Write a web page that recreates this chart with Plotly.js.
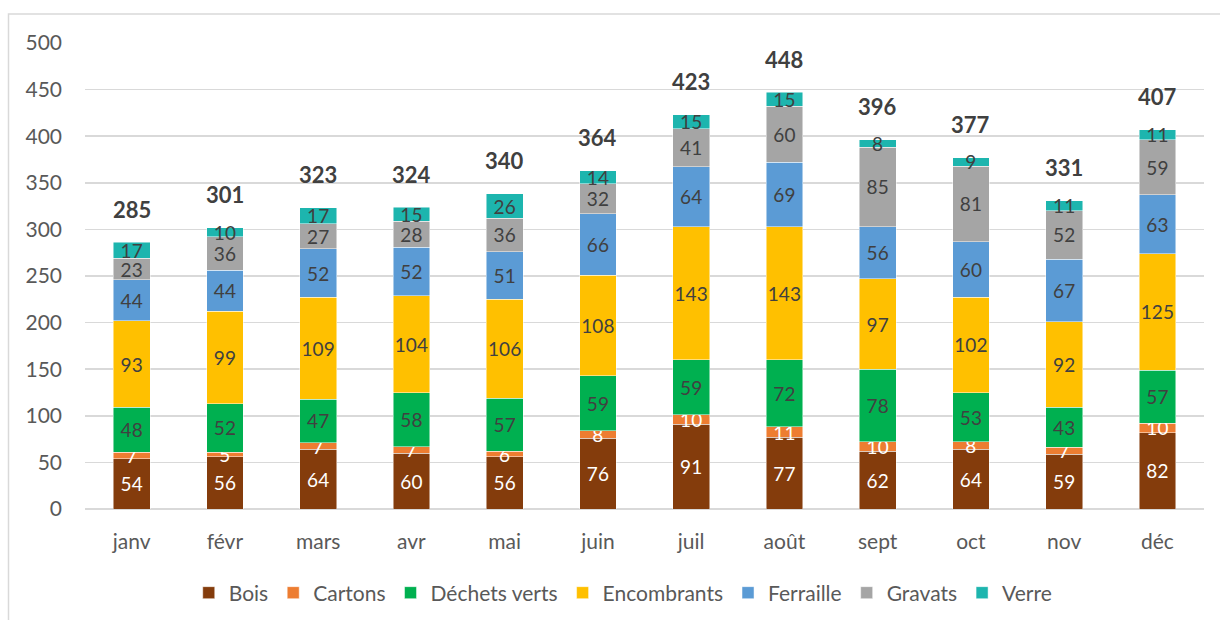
<!DOCTYPE html>
<html>
<head>
<meta charset="utf-8">
<script src="https://cdn.plot.ly/plotly-3.0.1.min.js"></script>
<style>
html,body{margin:0;padding:0;background:#fff;}
#chart{width:1220px;height:620px;}
</style>
</head>
<body>
<div id="chart"></div>
<script>
const months = ["janv","févr","mars","avr","mai","juin","juil","août","sept","oct","nov","déc"];
const bois         = [54,56,64,60,56,76,91,77,62,64,59,82];
const cartons      = [7,5,7,7,6,8,10,11,10,8,7,10];
const dechetsVerts = [48,52,47,58,57,59,59,72,78,53,43,57];
const encombrants  = [93,99,109,104,106,108,143,143,97,102,92,125];
const ferraille    = [44,44,52,52,51,66,64,69,56,60,67,63];
const gravats      = [23,36,27,28,36,32,41,60,85,81,52,59];
const verre        = [17,10,17,15,26,14,15,15,8,9,11,11];
const totals       = [285,301,323,324,340,364,423,448,396,377,331,407];

const seriesNames  = ["Bois","Cartons","Déchets verts","Encombrants","Ferraille","Gravats","Verre"];
const seriesValues = [bois,cartons,dechetsVerts,encombrants,ferraille,gravats,verre];
const seriesColors = ["#843C0C","#ED7D31","#00B050","#FFC000","#5B9BD5","#A5A5A5","#1DB5AE"];
const labelColors  = ["#FFFFFF","#FFFFFF","#404040","#404040","#404040","#404040","#404040"];

const FONT = "Lato, 'Open Sans', sans-serif";

const traces = seriesNames.map((name,i)=>({
  type:"bar",
  name:name,
  x:months,
  y:seriesValues[i],
  marker:{color:seriesColors[i], line:{color:"rgba(255,255,255,0.6)", width:0.8}},
  text:seriesValues[i].map(String),
  texttemplate:"%{text}",
  textposition:"inside",
  insidetextanchor:"middle",
  textangle:0,
  constraintext:"none",
  insidetextfont:{family:FONT, size:19, color:labelColors[i]},
  hoverinfo:"skip"
}));

const stackTops = months.map((m,j)=>seriesValues.reduce((s,arr)=>s+arr[j],0));

const annotations = months.map((m,j)=>({
  x:m, y:stackTops[j], xref:"x", yref:"y",
  text:"<b>"+totals[j]+"</b>",
  showarrow:false, yanchor:"middle", yshift:33,
  font:{family:FONT, size:22, color:"#404040"}
}));

const W=1119, H=466;
const px = v => (v-85)/W;
const py = v => (509-v)/H;

const layout = {
  width:1220, height:620,
  margin:{l:85, r:16, t:43, b:111, pad:0, autoexpand:false},
  paper_bgcolor:"#fff", plot_bgcolor:"#fff",
  barmode:"stack",
  bargap:0.606,
  showlegend:true,
  legend:{orientation:"h", x:0.481, xanchor:"center", y:py(593), yanchor:"middle",
          font:{family:FONT, size:21, color:"#595959"}, traceorder:"normal",
          itemwidth:30, tracegroupgap:0},
  xaxis:{type:"category", automargin:false, showgrid:false, zeroline:false, showline:false, ticks:"",
         ticklabelstandoff:18,
         tickfont:{family:FONT, size:21, color:"#595959"}},
  yaxis:{range:[0,500], dtick:50, tick0:0, automargin:false, showgrid:true, gridcolor:"#D9D9D9", gridwidth:1.5,
         zeroline:true, zerolinecolor:"#D9D9D9", zerolinewidth:1.5, showline:false, ticks:"",
         ticklabelstandoff:22,
         tickfont:{family:FONT, size:21, color:"#595959"}},
  annotations:annotations,
  shapes:[{type:"rect", xref:"paper", yref:"paper",
           x0:px(8.5), x1:px(1235), y0:py(640), y1:py(14),
           line:{color:"#D9D9D9", width:1.5}, fillcolor:"rgba(0,0,0,0)", layer:"below"}]
};

Plotly.newPlot("chart", traces, layout, {displayModeBar:false, staticPlot:true});
</script>
</body>
</html>
